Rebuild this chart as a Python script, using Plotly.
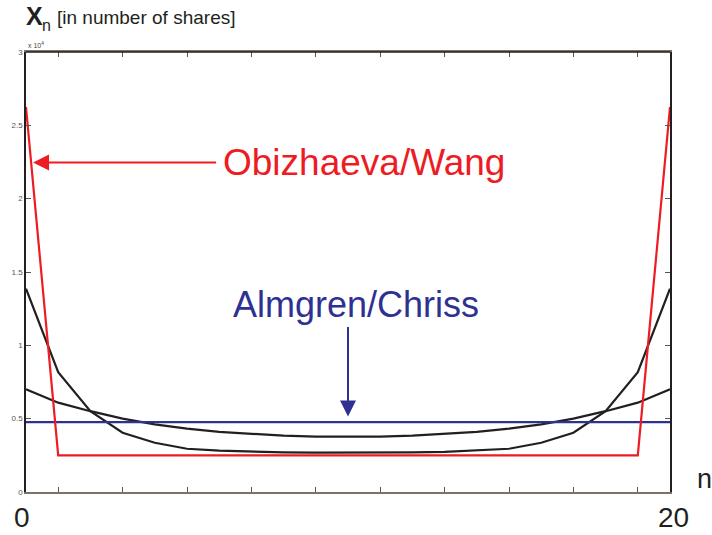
import plotly.graph_objects as go

# Trading period index
n = list(range(21))

# Trade sizes x_n in units of 10^4 shares
obizhaeva_wang = [2.625] + [0.25] * 19 + [2.625]
almgren_chriss = [0.476] * 21
steep_half = [1.386, 0.817, 0.551, 0.404, 0.336, 0.295, 0.282, 0.274, 0.270, 0.268]
steep_curve = steep_half + [0.267] + steep_half[::-1]
flat_half = [0.700, 0.609, 0.551, 0.500, 0.461, 0.432, 0.410, 0.395, 0.384, 0.377]
flat_curve = flat_half + [0.375] + flat_half[::-1]

y_ticks = [0, 0.5, 1, 1.5, 2, 2.5, 3]
y_tick_text = ["0", "0.5", "1", "1.5", "2", "2.5", "3"]
x_ticks = [1, 3, 5, 7, 9, 11, 13, 15, 17, 19]

RED = "#ED1C24"
BLUE = "#2E3192"
BLACK = "#231F20"
FONT = "Liberation Sans, Arial, sans-serif"

fig = go.Figure()
for ys in (flat_curve, steep_curve):
    fig.add_trace(go.Scatter(x=n, y=ys, mode="lines",
                             line=dict(color=BLACK, width=2.2), hoverinfo="skip"))
fig.add_trace(go.Scatter(x=n, y=almgren_chriss, mode="lines",
                         line=dict(color=BLUE, width=2.2), hoverinfo="skip"))
fig.add_trace(go.Scatter(x=n, y=obizhaeva_wang, mode="lines",
                         line=dict(color=RED, width=2.2), hoverinfo="skip"))

W, H = 712, 535
L, R, T, B = 23, 42, 52, 43


def px(xp):
    return (xp - L) / (W - L - R)


def py(yp):
    return (H - B - yp) / (H - T - B)


annotations = [
    # Strategy labels and their arrows
    dict(x=6.05, y=2.246, xref="x", yref="y", text="Obizhaeva/Wang", showarrow=False,
         xanchor="left", yanchor="middle", font=dict(size=37, color=RED, family=FONT)),
    dict(x=0.22, y=2.246, ax=5.95, ay=2.246, xref="x", yref="y", axref="x", ayref="y",
         text="", showarrow=True, arrowhead=2, arrowsize=1.6, arrowwidth=2, arrowcolor=RED),
    dict(x=6.36, y=1.28, xref="x", yref="y", text="Almgren/Chriss", showarrow=False,
         xanchor="left", yanchor="middle", font=dict(size=36, color=BLUE, family=FONT)),
    dict(x=10, y=0.515, ax=10, ay=1.135, xref="x", yref="y", axref="x", ayref="y",
         text="", showarrow=True, arrowhead=2, arrowsize=1.6, arrowwidth=2, arrowcolor=BLUE),
    # Axis title
    dict(x=px(21), y=py(16), xref="paper", yref="paper", text="<b>X</b>", showarrow=False,
         xanchor="left", yanchor="middle", font=dict(size=25, color=BLACK, family=FONT)),
    dict(x=px(37), y=py(25), xref="paper", yref="paper", text="n", showarrow=False,
         xanchor="left", yanchor="middle", font=dict(size=16, color=BLACK, family=FONT)),
    dict(x=px(52), y=py(18), xref="paper", yref="paper", text="[in number of shares]",
         showarrow=False, xanchor="left", yanchor="middle",
         font=dict(size=19, color=BLACK, family=FONT)),
    dict(x=px(23), y=py(45), xref="paper", yref="paper", text="x 10<sup>4</sup>",
         showarrow=False, xanchor="left", yanchor="middle",
         font=dict(size=7, color="#444444", family=FONT)),
    # x-axis end labels
    dict(x=px(19), y=py(535), xref="paper", yref="paper", text="0", showarrow=False,
         xanchor="center", yanchor="bottom", font=dict(size=28, color=BLACK, family=FONT)),
    dict(x=px(674), y=py(535), xref="paper", yref="paper", text="20", showarrow=False,
         xanchor="center", yanchor="bottom", font=dict(size=28, color=BLACK, family=FONT)),
    dict(x=px(705), y=py(479), xref="paper", yref="paper", text="n", showarrow=False,
         xanchor="center", yanchor="middle", font=dict(size=27, color=BLACK, family=FONT)),
]

fig.update_layout(
    width=W, height=H,
    margin=dict(l=L, r=R, t=T, b=B, pad=0),
    paper_bgcolor="white", plot_bgcolor="white",
    showlegend=False,
    font=dict(family=FONT),
    annotations=annotations,
    xaxis=dict(range=[0, 20], tickvals=x_ticks, showticklabels=False,
               ticks="inside", ticklen=5, tickwidth=1, tickcolor="#555555",
               showline=True, linecolor="#7D7266", linewidth=2, mirror="ticks",
               showgrid=False, zeroline=False, fixedrange=True),
    yaxis=dict(range=[0, 3], tickvals=y_ticks, ticktext=y_tick_text,
               ticks="inside", ticklen=5, tickwidth=1, tickcolor="#555555",
               tickfont=dict(size=8, color="#555555", family=FONT),
               showline=True, linecolor=BLACK, linewidth=1.5, mirror="ticks",
               showgrid=False, zeroline=False, fixedrange=True),
    shapes=[dict(type="line", xref="paper", yref="paper", x0=0, x1=1, y0=1, y1=1,
                 line=dict(color=BLACK, width=1.5))],
)

fig.write_html("out.html")
